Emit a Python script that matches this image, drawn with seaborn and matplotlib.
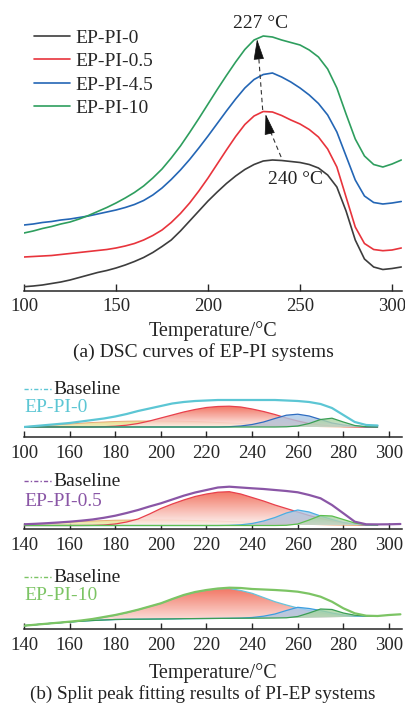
import numpy as np
import seaborn as sns
import matplotlib.pyplot as plt
from matplotlib.patches import PathPatch
from matplotlib.colors import to_rgba

# ---------------- (a) DSC curves ----------------
t_dsc = [100, 105, 110, 115, 120, 125, 130, 135, 140, 145, 150, 155, 160, 165,
         170, 175, 180, 185, 190, 195, 200, 205, 210, 215, 220, 225, 230, 235,
         240, 245, 250, 255, 260, 265, 270, 275, 280, 285, 290, 295, 300, 305]
ep_pi_0 = [4.3, 5, 6, 7.5, 9, 11, 13.5, 16, 18.5, 20.5, 23, 26, 29.5, 33.5,
           38.5, 44.5, 51, 60, 70, 80, 90, 99, 107.5, 115, 121.5, 126.5, 130, 131,
           130.5, 129.5, 128.5, 126.5, 123, 116, 104, 80, 51, 32, 24, 21.5, 22.5, 24]
ep_pi_05 = [34, 34.5, 35, 35.5, 36.5, 37.5, 38.5, 39.5, 40.5, 41.5, 43, 45, 47.5, 51,
            55.5, 61, 68.5, 77.5, 88, 100, 113, 127, 141, 154.5, 166.5, 175, 179.5, 179,
            175.5, 171, 167, 161.5, 154, 142, 124, 94, 64, 47.5, 41.5, 40.3, 41, 43]
ep_pi_45 = [66, 67, 68.5, 69.5, 71, 72, 73.5, 75, 77, 79, 81, 83.5, 86.5, 90.5,
            96, 103, 111.5, 121, 131.5, 143, 155, 167.5, 180, 192, 203, 211.5, 216.5, 218,
            214, 209, 203, 196, 187.5, 176, 159, 135, 111, 95, 88.5, 87, 88, 89.5]
ep_pi_10 = [58, 60, 62.5, 64.5, 67, 69, 72, 75.5, 79.5, 83.5, 88, 93, 98.5, 105,
            113, 122, 133, 145, 158.5, 172.5, 187, 201.5, 215.5, 229, 241.5, 251, 255, 254,
            251, 248.5, 246, 241, 234, 222, 203, 177, 152, 135, 126.5, 124, 127, 131]
dsc_labels = ['EP-PI-0', 'EP-PI-0.5', 'EP-PI-4.5', 'EP-PI-10']
dsc_colors = ['#3d3d3d', '#e8343c', '#2466b5', '#2e9e5e']

# ---------------- (b) split peak fitting ----------------
t_fit = [140, 145, 150, 155, 160, 165, 170, 175, 180, 185, 190, 195, 200, 205,
         210, 215, 220, 225, 230, 235, 240, 245, 250, 255, 260, 265, 270, 275,
         280, 285, 290, 295]
t_total = t_fit + [300, 305]

# EP-PI-0
base_0 = 10
total_0 = [10, 11, 12, 13, 14, 15.5, 17, 18.5, 20.5, 23, 26, 28.5, 31, 33.5,
           35, 36, 36.5, 37, 37, 37, 37, 37, 37, 36.5, 36, 35, 33, 29,
           22, 15, 12, 11.5]
yellow_0 = [10.3, 10.9, 11.5, 12.2, 13, 13.8, 14.5, 15, 15.5, 15.8, 16, 16, 16, 15.9,
            15.7, 15.4, 15, 14.5, 14, 13.5, 13, 12.5, 12, 11.5, 11, 10.7, 10.4, 10.2,
            10, 10, 10, 10]
red_0 = [10, 10, 10, 10, 10, 10, 10, 10.3, 10.8, 11.8, 13.5, 16, 19, 22,
         25, 27.5, 29.5, 30.5, 30.8, 30, 28, 25.5, 22.5, 19, 16, 13.5, 12, 11,
         10.5, 10.2, 10, 10]
blue_0 = [10, 10, 10, 10, 10, 10, 10, 10, 10, 10, 10, 10, 10, 10,
          10, 10, 10, 10, 10.3, 11, 12.5, 15, 18.5, 21.8, 22.8, 21, 17.5, 14,
          12, 10.8, 10.2, 10]
green_0 = [10, 10, 10, 10, 10, 10, 10, 10, 10, 10, 10, 10, 10, 10,
           10, 10, 10, 10, 10, 10, 10, 10, 10, 10.2, 11, 13.5, 17.5, 18.8,
           15, 11.5, 10.3, 10]

# EP-PI-0.5
base_05 = 3.5
total_05 = [4.7, 5.2, 5.8, 6.5, 7.3, 8.3, 9.5, 11.2, 13.3, 16, 19, 22.5, 25.7, 29.5,
            33.3, 36.5, 39, 41.5, 42.3, 41.5, 40.7, 40, 39, 38, 36.7, 34, 30.7, 24,
            15.7, 7.3, 4.7, 4.6, 4.7, 5]
yellow_05 = [4.3, 4.9, 5.5, 6.2, 7, 7.5, 8, 8.4, 8.8, 8.9, 9, 9, 9, 8.9,
             8.7, 8.5, 8.2, 7.9, 7.5, 7.1, 6.7, 6.2, 5.8, 5.4, 5, 4.6, 4.3, 4,
             3.8, 3.6, 3.5, 3.5]
red_05 = [3.5, 3.5, 3.5, 3.5, 3.5, 3.5, 3.6, 4, 5, 7, 10, 15, 20.5, 25,
          29, 32.5, 35, 36.8, 37.3, 35, 31.5, 28, 24, 20.5, 17, 13.5, 10.5, 8,
          6, 4.8, 4, 3.7]
blue_05 = [3.5, 3.5, 3.5, 3.5, 3.5, 3.5, 3.5, 3.5, 3.5, 3.5, 3.5, 3.5, 3.5, 3.5,
           3.5, 3.5, 3.5, 3.5, 3.7, 4.2, 5.5, 8, 11.5, 16, 19, 17, 13, 9.5,
           6.5, 4.8, 4, 3.7]
green_05 = [3.5, 3.5, 3.5, 3.5, 3.5, 3.5, 3.5, 3.5, 3.5, 3.5, 3.5, 3.5, 3.5, 3.5,
            3.5, 3.5, 3.5, 3.5, 3.5, 3.5, 3.5, 3.5, 3.5, 3.7, 5, 9, 13.5, 13,
            9.5, 6, 4.3, 3.8]

# EP-PI-10
base_10 = [3.3, 4.3, 5.3, 6.2, 7, 7.8, 8.5, 9, 9.5, 9.7, 9.8, 9.9, 10, 10.1,
           10.3, 10.4, 10.5, 10.6, 10.7, 10.8, 10.8, 10.9, 11, 11.1, 11.2, 11.4, 11.6, 11.8,
           12, 12.5, 13, 13]
total_10 = [3.3, 4.3, 5.3, 6.3, 7.3, 8.5, 10, 12, 14, 16.5, 19.3, 22.5, 25.7, 30,
            34, 37, 39, 40.5, 41.3, 41, 40, 39.5, 39, 38.3, 37.3, 35.3, 32.3, 27.3,
            20.7, 15.7, 13.3, 13, 14, 14.7]
red_10 = [3.3, 4.3, 5.3, 6.2, 7.1, 8.2, 9.6, 11.7, 13.8, 16.3, 19.2, 22.4, 25.6, 29.8,
          33.8, 36.8, 38.8, 40.2, 40.5, 38.5, 35.7, 31.5, 27.3, 24, 21, 18.5, 16.5, 14.5,
          13, 12.6, 13, 13]
blue_10 = [3.3, 4.3, 5.3, 6.2, 7, 7.8, 8.5, 9, 9.5, 9.7, 9.8, 9.9, 10, 10.1,
           10.3, 10.4, 10.5, 10.6, 10.7, 10.9, 11.5, 12.8, 15, 18.5, 21.7, 20.5, 18.5, 16,
           14, 13, 13, 13]
green_10 = [3.3, 4.3, 5.3, 6.2, 7, 7.8, 8.5, 9, 9.5, 9.7, 9.8, 9.9, 10, 10.1,
            10.3, 10.4, 10.5, 10.6, 10.7, 10.8, 10.8, 10.9, 11, 11.2, 12.5, 16, 20, 19.5,
            16, 13.8, 13, 13]

fit_ticks = [140, 160, 180, 200, 220, 240, 260, 280, 300]
fit_ticklabels_top = ['100', '160', '180', '200', '220', '240', '260', '280', '300']
fit_ticklabels = ['140', '160', '180', '200', '220', '240', '260', '280', '300']

sns.set_theme(style='ticks')
plt.rcParams['font.family'] = ['Liberation Serif', 'DejaVu Serif']
plt.rcParams['axes.linewidth'] = 1.1


def gradient_fill(ax, t, y, base, top_color, bottom_color, alpha=0.8, z=1):
    poly = ax.fill_between(t, base, y, facecolor='none', edgecolor='none')
    patch = PathPatch(poly.get_paths()[0], transform=ax.transData,
                      facecolor='none', edgecolor='none')
    ax.add_patch(patch)
    c1 = np.array(to_rgba(top_color))
    c2 = np.array(to_rgba(bottom_color))
    g = np.linspace(0, 1, 120)[:, None, None]
    img = c1 * (1 - g) + c2 * g
    im = ax.imshow(img, extent=[min(t), max(t), float(np.min(base)), max(y)],
                   origin='upper', aspect='auto', alpha=alpha, zorder=z,
                   interpolation='bilinear')
    im.set_clip_path(patch)


W, H = 406, 709
fig = plt.figure(figsize=(W / 100, H / 100), dpi=100)

# ---- panel (a)
ax = fig.add_axes([24 / W, (H - 291) / H, 378 / W, 281 / H])
for vals, lab, col in zip([ep_pi_0, ep_pi_05, ep_pi_45, ep_pi_10], dsc_labels, dsc_colors):
    sns.lineplot(x=t_dsc, y=vals, color=col, lw=1.2, label=lab, ax=ax)
ax.set_xlim(100, 305.4)
ax.set_ylim(0, 281)
ax.set_xticks([100, 150, 200, 250, 300])
ax.set_yticks([])
ax.tick_params(axis='x', direction='in', length=5, width=1, labelsize=13.5, pad=5)
sns.despine(ax=ax, left=True)
ax.set_xlabel('Temperature/°C', fontsize=14.5, labelpad=4.5)
ax.legend(loc='upper left', bbox_to_anchor=(0.026, 0.932), frameon=False,
          fontsize=14, handlelength=1.85, handletextpad=0.3, labelspacing=0.3,
          borderpad=0, borderaxespad=0)

# arrows between peak maxima
ax.plot([239.7, 232], [134, 168], ls=(0, (4, 3)), color='#333333', lw=0.8)
ax.annotate('', xy=(231, 179.5), xytext=(233, 162),
            arrowprops=dict(arrowstyle='-|>,head_length=1.1,head_width=0.28',
                            color='#111111', lw=0.5))
ax.plot([229.7, 227.3], [181, 240], ls=(0, (4, 3)), color='#333333', lw=0.8)
ax.annotate('', xy=(226.5, 254.5), xytext=(227.4, 236),
            arrowprops=dict(arrowstyle='-|>,head_length=1.1,head_width=0.28',
                            color='#111111', lw=0.5))
ax.text(228.5, 268, '227 °C', fontsize=14, ha='center', va='center', color='#222222')
ax.text(247.5, 112, '240 °C', fontsize=14, ha='center', va='center', color='#222222')

fig.text(203 / W, 1 - 352 / H, '(a) DSC curves of EP-PI systems', fontsize=14,
         ha='center', va='center', color='#222222')

# ---- panels (b)
panels = [
    dict(spine=437, total=total_0, t_tot=t_fit, base=base_0, yellow=yellow_0, red=red_0,
         blue=blue_0, green=green_0, color='#5cc6d4', label='EP-PI-0',
         ticklabels=fit_ticklabels_top, leg_y=389, lab_y=408,
         red_edge='#e8404c', blue_edge='#2f6cc0', green_edge='#3a9e55'),
    dict(spine=529, total=total_05, t_tot=t_total, base=base_05, yellow=yellow_05, red=red_05,
         blue=blue_05, green=green_05, color='#8a56a6', label='EP-PI-0.5',
         ticklabels=fit_ticklabels, leg_y=481, lab_y=502,
         red_edge='#e8404c', blue_edge='#4aaee2', green_edge='#5cbf4e'),
    dict(spine=629, total=total_10, t_tot=t_total, base=base_10, yellow=None, red=red_10,
         blue=blue_10, green=green_10, color='#7cc464', label='EP-PI-10',
         ticklabels=fit_ticklabels, leg_y=577, lab_y=595,
         red_edge='#66c4dc', blue_edge='#3a9ee0', green_edge='#3a9e55'),
]

for p in panels:
    ax = fig.add_axes([24 / W, (H - p['spine']) / H, 378 / W, 67 / H])
    base = p['base']
    if p['yellow'] is not None:
        gradient_fill(ax, t_fit, p['yellow'], base, '#e6dc78', '#efe9b8', alpha=0.85, z=1)
        sns.lineplot(x=t_fit, y=p['yellow'], color='#e8a878', lw=0.7, ax=ax, zorder=1.5)
    gradient_fill(ax, t_fit, p['red'], base, '#f05e48', '#fdf0ee', alpha=0.85, z=2)
    sns.lineplot(x=t_fit, y=p['red'], color=p['red_edge'], lw=0.9, ax=ax, zorder=2.5)
    gradient_fill(ax, t_fit, p['blue'], base, '#a6cdf0', '#b9bccb', alpha=0.8, z=3)
    sns.lineplot(x=t_fit, y=p['blue'], color=p['blue_edge'], lw=0.9, ax=ax, zorder=3.5)
    gradient_fill(ax, t_fit, p['green'], base, '#9fd49a', '#c7d8c2', alpha=0.8, z=4)
    sns.lineplot(x=t_fit, y=p['green'], color=p['green_edge'], lw=0.9, ax=ax, zorder=4.5)
    sns.lineplot(x=p['t_tot'], y=p['total'], color=p['color'], lw=1.6, ax=ax, zorder=6)

    ax.set_xlim(140, 305.7)
    ax.set_ylim(0, 67)
    ax.set_xticks(fit_ticks)
    ax.set_xticklabels(p['ticklabels'])
    ax.set_yticks([])
    ax.tick_params(axis='x', direction='in', length=4, width=1, labelsize=13.5, pad=5.5)
    sns.despine(ax=ax, left=True)

    ly = (p['spine'] - p['leg_y']) / 67
    ax.plot([0.0, 0.074], [ly, ly], ls=(0, (3, 1.5, 1, 1.5)), color=p['color'], lw=1.0,
            transform=ax.transAxes, clip_on=False)
    ax.text(0.077, ly, 'Baseline', transform=ax.transAxes, fontsize=14,
            ha='left', va='center', color='#222222')
    ax.text(0.0, (p['spine'] - p['lab_y']) / 67, p['label'], transform=ax.transAxes,
            fontsize=14, ha='left', va='center', color=p['color'])
    last_ax = ax

last_ax.set_xlabel('Temperature/°C', fontsize=14.5, labelpad=7)
fig.text(203 / W, 1 - 694.5 / H, '(b) Split peak fitting results of PI-EP systems',
         fontsize=13.8, ha='center', va='center', color='#222222')

fig.savefig('out.png', dpi=100)
